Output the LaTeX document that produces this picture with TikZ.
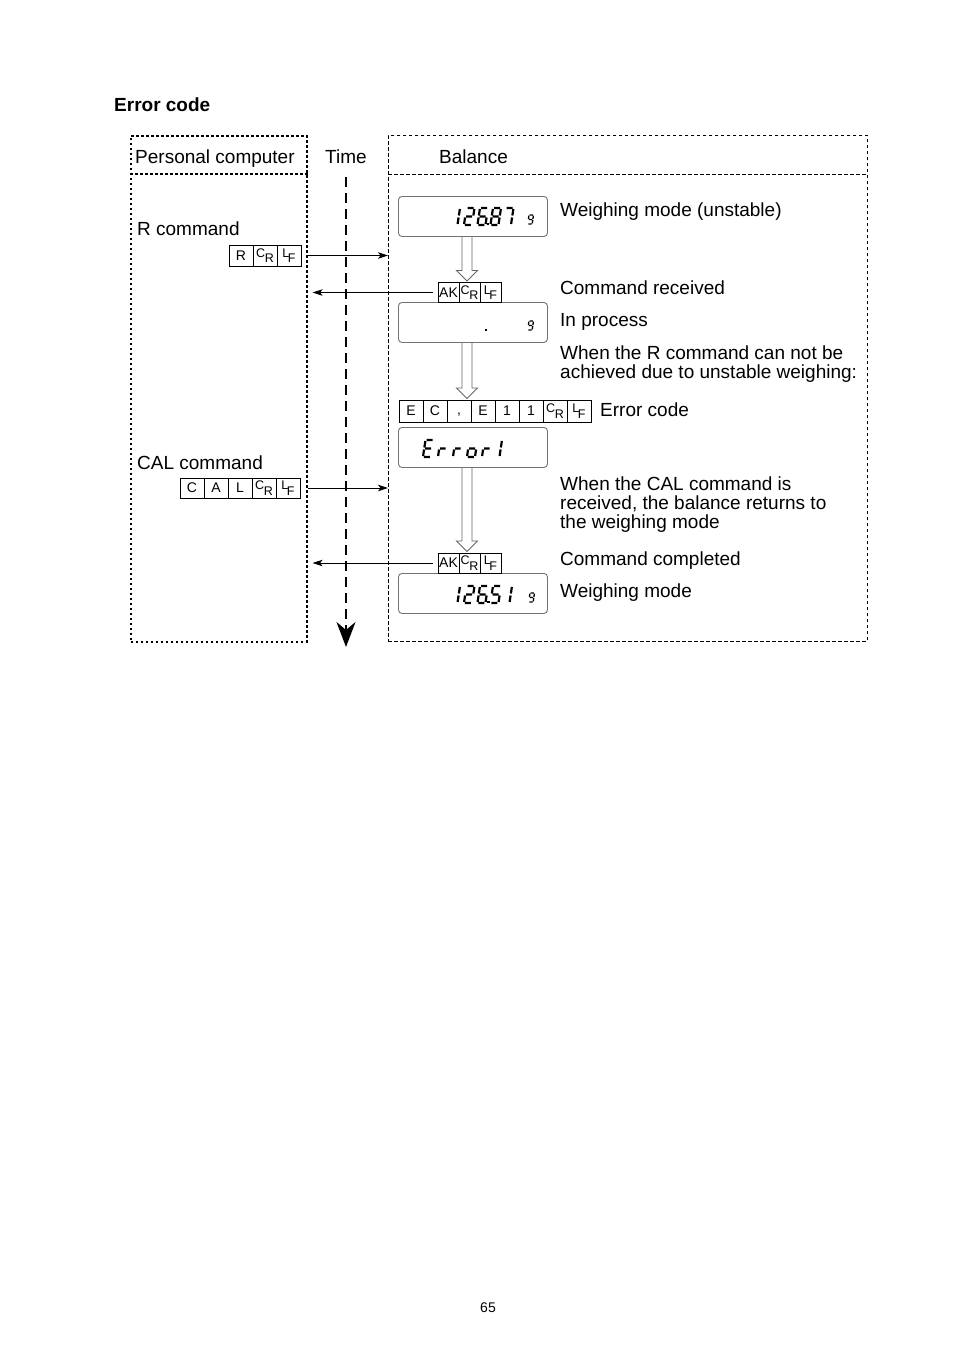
\documentclass[tikz,border=0pt]{standalone}
\usepackage{fontspec}
\setmainfont{Liberation Sans}
\usetikzlibrary{positioning,calc,arrows.meta}

% CR and LF control characters as printed in the cells
\newcommand\crsym{{\fontsize{12.5}{12.5}\selectfont\raisebox{3pt}{C}\kern-.5pt\raisebox{-2.5pt}{R}}}
\newcommand\lfsym{{\fontsize{12.5}{12.5}\selectfont\raisebox{3pt}{L}\kern-1.5pt\raisebox{-2.5pt}{F}}}

% hollow arrow between two balance states
\newcommand\hollowarrow[2]{%
  \draw[hollow] let \p1=(#1.south), \p2=(#2.north) in
    (462pt,\y1) -- (462pt,\y2+12pt) -- (456.5pt,\y2+12pt) -- (467pt,\y2+1.5pt)
    -- (477.5pt,\y2+12pt) -- (472pt,\y2+12pt) -- (472pt,\y1);}

\tikzset{
  txt/.style={font=\fontsize{19}{19}\selectfont, inner sep=0pt},
  cell/.style={draw, line width=0.8pt, minimum width=24pt, minimum height=21pt,
    inner sep=0pt, outer sep=0pt, font=\fontsize{14}{14}\selectfont},
  akcell/.style={cell, minimum width=21pt, minimum height=20pt},
  display/.style={draw=black!55, line width=0.9pt, rounded corners=3.5pt,
    minimum width=149pt, minimum height=40pt, anchor=north west, inner sep=0pt},
  pcframe/.style={draw, line width=1.6pt, dash pattern=on 2.5pt off 2.5pt},
  balframe/.style={draw, line width=0.9pt, dash pattern=on 3.5pt off 2.5pt},
  timeline/.style={line width=2.2pt, dash pattern=on 10pt off 6pt,
    -{Stealth[length=25pt,width=19pt,inset=8pt]}},
  msg/.style={line width=0.8pt, -{Stealth[length=10pt,width=6.5pt,inset=2.5pt]}},
  hollow/.style={draw=black!60, line width=0.9pt},
  segs/.style={line width=2.2pt, xslant=0.15},
  useg/.style={line width=1.3pt, xslant=0.15},
  % seven segment glyphs
  pics/seg1/.style={code={\draw[segs] (8,1)--(8,7.5) (8,9.5)--(8,16);}},
  pics/seg2/.style={code={\draw[segs] (1,0)--(7,0) (8,1)--(8,7.5) (1,8.5)--(7,8.5) (0,9.5)--(0,16) (1,17)--(7,17);}},
  pics/seg5/.style={code={\draw[segs] (1,0)--(7,0) (0,1)--(0,7.5) (1,8.5)--(7,8.5) (8,9.5)--(8,16) (1,17)--(7,17);}},
  pics/seg6/.style={code={\draw[segs] (1,0)--(7,0) (0,1)--(0,7.5) (1,8.5)--(7,8.5) (0,9.5)--(0,16) (8,9.5)--(8,16) (1,17)--(7,17);}},
  pics/seg7/.style={code={\draw[segs] (1,0)--(7,0) (8,1)--(8,7.5) (8,9.5)--(8,16);}},
  pics/seg8/.style={code={\draw[segs] (1,0)--(7,0) (0,1)--(0,7.5) (8,1)--(8,7.5) (1,8.5)--(7,8.5) (0,9.5)--(0,16) (8,9.5)--(8,16) (1,17)--(7,17);}},
  pics/segE/.style={code={\draw[segs] (1,0)--(7,0) (0,1)--(0,7.5) (1,8.5)--(7,8.5) (0,9.5)--(0,16) (1,17)--(7,17);}},
  pics/segr/.style={code={\draw[segs] (1,8.5)--(6.5,8.5) (0,9.5)--(0,16);}},
  pics/sego/.style={code={\draw[segs] (1,8.5)--(7,8.5) (0,9.5)--(0,16) (8,9.5)--(8,16) (1,17)--(7,17);}},
  pics/segdot/.style={code={\fill (-1.2,-1.2) rectangle (1.2,1.2);}},
  pics/segg/.style={code={\draw[useg] (0.6,0)--(3.9,0) (0,0.6)--(0,4) (4.5,0.6)--(4.5,4) (0.6,4.5)--(3.9,4.5) (4.5,5)--(4.5,8.4) (0.6,9)--(3.9,9);}}
}

\begin{document}
\begin{tikzpicture}[x=1pt,y=-1pt]
\useasboundingbox (0,0) rectangle (954,1350);

\node[txt, anchor=base west] (title) at (114,111) {\bfseries Error code};

% frames
\node[pcframe, minimum width=176pt, minimum height=506pt, anchor=north west, inner sep=0pt] (pc) at (130,135) {};
\node[balframe, minimum width=479pt, minimum height=506pt, anchor=north west, inner sep=0pt] (bal) at (388,135) {};
\draw[pcframe] ([yshift=-39pt]pc.north west) -- ([yshift=-39pt]pc.north east);
\draw[balframe] ([yshift=-39pt]bal.north west) -- ([yshift=-39pt]bal.north east);

\node[txt, anchor=base west] (pctitle) at (135,163) {Personal computer};
\node[txt, anchor=base west] (timetitle) at (325,163) {Time};
\node[txt, anchor=base west] (baltitle) at (439,163) {Balance};

% time axis
\coordinate (t0) at (346,177);
\coordinate (t1) at (346,647);
\draw[timeline] (t0) -- (t1);

% personal computer side
\node[txt, anchor=base west] (rlbl) at (137,235) {R command};
\node[cell, anchor=west] (r1) at (229,255.5) {R};
\node[cell, right=0pt of r1] (r2) {\crsym};
\node[cell, right=0pt of r2] (r3) {\lfsym};

\node[txt, anchor=base west] (callbl) at (137,469) {CAL command};
\node[cell, anchor=west, minimum height=20pt] (c1) at (180,488) {C};
\node[cell, minimum height=20pt, right=0pt of c1] (c2) {A};
\node[cell, minimum height=20pt, right=0pt of c2] (c3) {L};
\node[cell, minimum height=20pt, right=0pt of c3] (c4) {\crsym};
\node[cell, minimum height=20pt, right=0pt of c4] (c5) {\lfsym};

% balance displays
\node[display] (disp1) at (398,196) {};
\node[display] (disp2) at (398,302) {};
\node[display] (disp3) at (398,427) {};
\node[display] (disp4) at (398,573) {};

\pic at (452,208) {seg1};
\pic at (466.5,208) {seg2};
\pic at (480,208) {seg6};
\pic at (488,224) {segdot};
\pic at (493,208) {seg8};
\pic at (505.5,208) {seg7};
\pic at (529,215) {segg};

\pic at (486,330) {segdot};
\pic at (529,321) {segg};

\pic at (425.5,440) {segE};
\pic at (440.5,440) {segr};
\pic at (455.5,440) {segr};
\pic at (469.5,440) {sego};
\pic at (484.5,440) {segr};
\pic at (494,440) {seg1};

\pic at (452,586) {seg1};
\pic at (466.5,586) {seg2};
\pic at (480,586) {seg6};
\pic at (488.5,602) {segdot};
\pic at (493,586) {seg5};
\pic at (504,586) {seg1};
\pic at (530,593) {segg};

% balance responses
\node[akcell, anchor=west] (ak1a) at (438,292.5) {AK};
\node[akcell, right=0pt of ak1a] (ak1b) {\crsym};
\node[akcell, right=0pt of ak1b] (ak1c) {\lfsym};

\node[cell, anchor=west, minimum height=22pt] (ec1) at (399,411) {E};
\node[cell, minimum height=22pt, right=0pt of ec1] (ec2) {C};
\node[cell, minimum height=22pt, right=0pt of ec2] (ec3) {\vphantom{E},};
\node[cell, minimum height=22pt, right=0pt of ec3] (ec4) {E};
\node[cell, minimum height=22pt, right=0pt of ec4] (ec5) {1};
\node[cell, minimum height=22pt, right=0pt of ec5] (ec6) {1};
\node[cell, minimum height=22pt, right=0pt of ec6] (ec7) {\crsym};
\node[cell, minimum height=22pt, right=0pt of ec7] (ec8) {\lfsym};

\node[akcell, anchor=west] (ak2a) at (438,563) {AK};
\node[akcell, right=0pt of ak2a] (ak2b) {\crsym};
\node[akcell, right=0pt of ak2b] (ak2c) {\lfsym};

\hollowarrow{disp1}{ak1b}
\hollowarrow{disp2}{ec3}
\hollowarrow{disp3}{ak2b}

% messages
\draw[msg] (r3.east -| pc.east) -- (r3.east -| bal.west);
\draw[msg, shorten <=5pt, shorten >=5pt] (ak1a.west) -- (ak1a.west -| pc.east);
\draw[msg] (c5.east -| pc.east) -- (c5.east -| bal.west);
\draw[msg, shorten <=5pt, shorten >=5pt] (ak2a.west) -- (ak2a.west -| pc.east);

% notes
\node[txt, anchor=base west] (wm1) at (560,216) {Weighing mode (unstable)};
\node[txt, anchor=base west] (rcv) at (560,294) {Command received};
\node[txt, anchor=base west] (proc) at (560,326) {In process};
\node[txt, anchor=north west, align=left] (unst) at (560,346) {When the R command can not be\\achieved due to unstable weighing:};
\node[txt, anchor=base west] (errlbl) at (600,416) {Error code};
\node[txt, anchor=north west, align=left] (calret) at (560,477) {When the CAL command is\\received, the balance returns to\\the weighing mode};
\node[txt, anchor=base west] (done) at (560,565) {Command completed};
\node[txt, anchor=base west] (wm2) at (560,597) {Weighing mode};

\node[anchor=base, inner sep=0pt, font=\fontsize{14}{14}\selectfont] (page) at (488,1312) {65};
\end{tikzpicture}
\end{document}
